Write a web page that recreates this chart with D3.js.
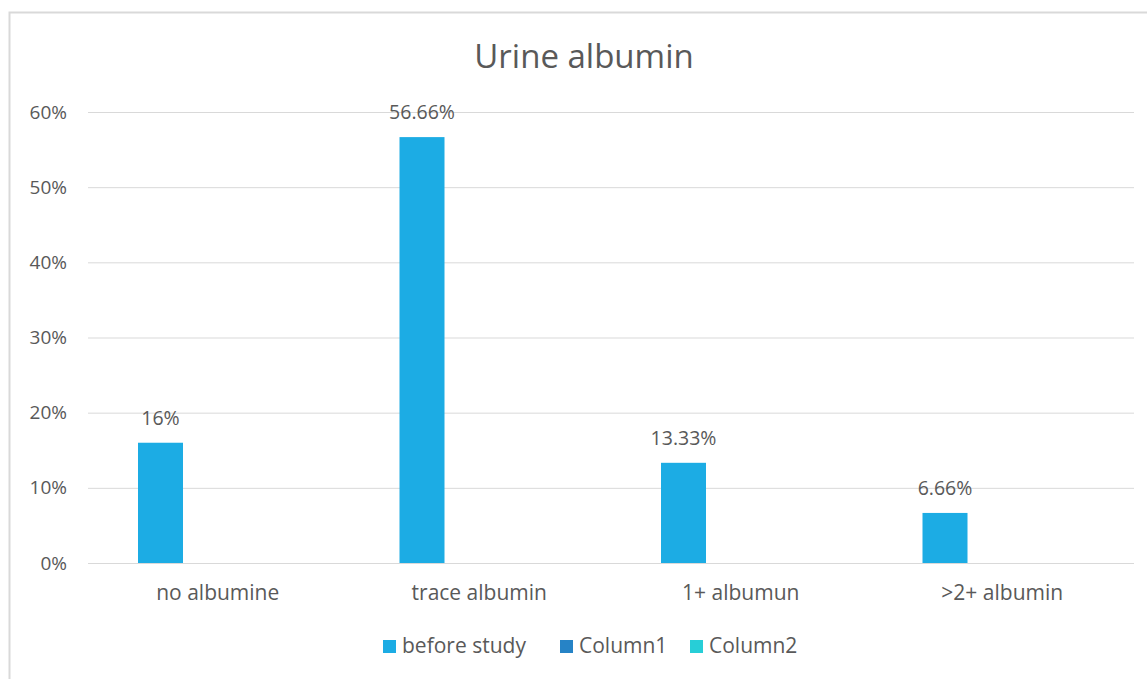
<!doctype html>
<html>
<head>
    <meta charset="utf-8">
    <title>Urine albumin</title>
    <script src="https://cdn.jsdelivr.net/npm/d3@7"></script>
    <style>
        body { margin: 0; background: #fff; }
        text { font-family: "Open Sans", sans-serif; fill: #595959; }
    </style>
</head>
<body>
<div id="chart"></div>
<script>
// chart data
var categories = ['no albumine', 'trace albumin', '1+ albumun', '>2+ albumin'];
var series = ['before study', 'Column1', 'Column2'];
var beforeStudy = [16, 56.66, 13.33, 6.66];
var valueLabels = ['16%', '56.66%', '13.33%', '6.66%'];
var yTicks = [0, 10, 20, 30, 40, 50, 60];
var colors = ['#1cace4', '#2683c6', '#27ced7'];

var width = 1147, height = 679;
var plot = {left: 88, right: 1134, top: 112, bottom: 563};

var svg = d3.select('#chart').append('svg')
    .attr('width', width)
    .attr('height', height);

// chart area border
svg.append('rect')
    .attr('x', 9.5).attr('y', 12.5)
    .attr('width', 1160).attr('height', 700)
    .attr('fill', 'white')
    .attr('stroke', '#d9d9d9')
    .attr('stroke-width', 2);

var x = d3.scaleBand()
    .domain(categories)
    .range([plot.left, plot.right]);

// series slots inside each category
var xs = d3.scaleBand()
    .domain(series)
    .range([50, 185]);

var y = d3.scaleLinear()
    .domain([0, 60])
    .range([plot.bottom, plot.top]);

// gridlines
svg.append('g')
    .selectAll('line')
    .data(yTicks)
    .join('line')
    .attr('x1', plot.left).attr('x2', plot.right)
    .attr('y1', function(d){ return y(d) + 0.5; })
    .attr('y2', function(d){ return y(d) + 0.5; })
    .attr('stroke', '#d9d9d9')
    .attr('stroke-width', 1);

// y axis labels
svg.append('g')
    .selectAll('text')
    .data(yTicks)
    .join('text')
    .attr('x', 67)
    .attr('y', function(d){ return y(d); })
    .attr('dy', '0.35em')
    .attr('text-anchor', 'end')
    .style('font-size', '19px')
    .text(function(d){ return d + '%'; });

// bars
svg.append('g')
    .selectAll('rect')
    .data(beforeStudy)
    .join('rect')
    .attr('x', function(d, i){ return x(categories[i]) + xs('before study'); })
    .attr('y', function(d){ return y(d); })
    .attr('width', xs.bandwidth())
    .attr('height', function(d){ return y(0) - y(d); })
    .attr('fill', colors[0]);

// value labels
svg.append('g')
    .selectAll('text')
    .data(beforeStudy)
    .join('text')
    .attr('x', function(d, i){ return x(categories[i]) + xs('before study') + xs.bandwidth() / 2; })
    .attr('y', function(d){ return y(d) - 18; })
    .attr('text-anchor', 'middle')
    .style('font-size', '19.5px')
    .text(function(d, i){ return valueLabels[i]; });

// category labels
svg.append('g')
    .selectAll('text')
    .data(categories)
    .join('text')
    .attr('x', function(d){ return x(d) + x.bandwidth() / 2 - 1; })
    .attr('y', 600)
    .attr('text-anchor', 'middle')
    .style('font-size', '21px')
    .text(function(d){ return d; });

// title
svg.append('text')
    .attr('x', 584)
    .attr('y', 68)
    .attr('text-anchor', 'middle')
    .style('font-size', '33px')
    .text('Urine albumin');

// legend
var legendX = [383, 560, 690];
var legend = svg.append('g')
    .selectAll('g')
    .data(series)
    .join('g')
    .attr('transform', function(d, i){ return 'translate(' + legendX[i] + ',640)'; });

legend.append('rect')
    .attr('width', 13).attr('height', 13)
    .attr('fill', function(d, i){ return colors[i]; });

legend.append('text')
    .attr('x', 19)
    .attr('y', 6)
    .attr('dy', '0.35em')
    .style('font-size', '21px')
    .text(function(d){ return d; });
</script>
</body>
</html>
